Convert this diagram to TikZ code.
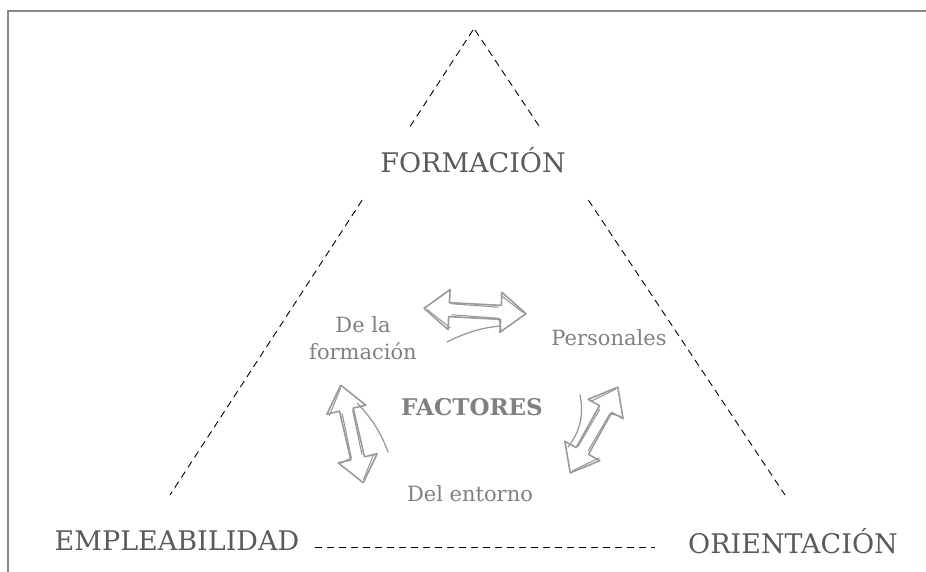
\documentclass[tikz,border=0pt]{standalone}
\usepackage{fontspec}
\newfontfamily\slab{DejaVu Serif}
\usetikzlibrary{calc}
\definecolor{dark}{HTML}{5A5A5A}
\definecolor{light}{HTML}{808080}
\definecolor{frame}{HTML}{8A8A8A}
\definecolor{arr}{HTML}{9A9A9A}
\tikzset{
  tri/.style={draw=black, line width=0.9pt, dash pattern=on 7pt off 5pt},
  corner/.style={font=\slab\fontsize{27}{30}\selectfont, text=dark, inner sep=0pt},
  inner/.style={font=\slab\fontsize{21}{27}\selectfont, text=light, align=center, inner sep=0pt},
  sk/.style={draw=arr, line width=1.6pt, line join=round, line cap=round},
}
% double arrow: #1 center, #2 angle, #3 length
\newcommand{\sketcharrow}[3]{%
  \begin{scope}[shift={#1}, rotate=#2]
    \pgfmathsetmacro{\hL}{#3/2}
    \pgfmathsetmacro{\hB}{#3/2-25}
    \draw[sk] (-\hL,0) -- (-\hB,20) -- (-\hB,7) -- (\hB,7) -- (\hB,20) -- (\hL,0)
      -- (\hB,-20) -- (\hB,-7) -- (-\hB,-7) -- (-\hB,-20) -- cycle;
    \draw[sk, line width=1.1pt] (-\hL+3,1) -- (-\hB+2,18) (-\hB+3,5) -- (\hB-2,6) -- (\hB+1,17)
      (\hL-3,-1) -- (\hB-1,-17) (\hB-3,-5) -- (-\hB+2,-6);
  \end{scope}}
\begin{document}
\begin{tikzpicture}[x=1pt,y=-1pt]
\useasboundingbox (0,0) rectangle (926,572);
% frame
\draw[frame, line width=1.5pt] (8,572) -- (8,11) -- (926,11);
% triangle corners
\coordinate (apex) at (473,30);
\coordinate (apexr) at (475,30);
\coordinate (bl) at (170,495);
\coordinate (br) at (785,495);
\draw[tri] (apex) -- ($(apex)!0.213!(bl)$);
\draw[tri] ($(apex)!0.366!(bl)$) -- (bl);
\draw[tri] (apexr) -- ($(apexr)!0.213!(br)$);
\draw[tri] ($(apexr)!0.366!(br)$) -- (br);
\coordinate (bot1) at (315,547);
\coordinate (bot2) at (655,547);
\draw[tri] (bot1) -- (bot2);
% corner labels
\node[corner] (form) at (473,160) {FORMACIÓN};
\node[corner] (empl) at (177,541) {EMPLEABILIDAD};
\node[corner] (orie) at (793,541) {ORIENTACIÓN};
% inner labels
\node[inner] (dela) at (363,338) {De la\\formación};
\node[inner] (pers) at (609,338) {Personales};
\node[inner, font=\slab\bfseries\fontsize{23}{27}\selectfont] (fact) at (472,407) {FACTORES};
\node[inner] (entor) at (470,494) {Del entorno};
% arrows
\sketcharrow{(475,311)}{-3}{102}
\draw[sk, line width=1.3pt] (447,342) .. controls (465,333) and (480,328) .. (500,326);
\sketcharrow{(352,434)}{-77}{100}
\draw[sk, line width=1.3pt] (357,403) .. controls (372,418) and (382,435) .. (388,452);
\sketcharrow{(594,430)}{61}{98}
\draw[sk, line width=1.3pt] (580,395) .. controls (584,415) and (580,432) .. (568,447);
\end{tikzpicture}
\end{document}
